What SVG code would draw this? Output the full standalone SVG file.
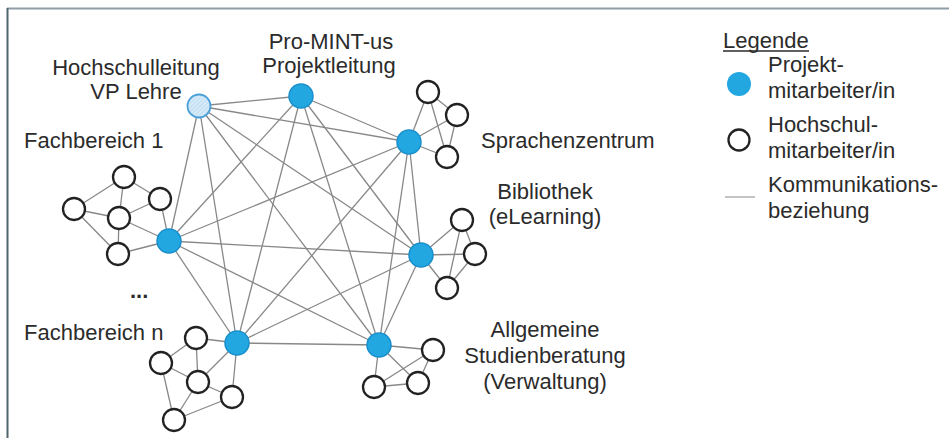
<svg xmlns="http://www.w3.org/2000/svg" width="949" height="438" viewBox="0 0 949 438">
  <style>
    text { font-family: "Liberation Sans", Arial, sans-serif; font-size: 22px; fill: #2b2b2b; }
    .c { text-anchor: middle; }
    .link { stroke: #888888; stroke-width: 1.3; fill: none; }
    .hub { fill: #22a7e1; stroke: #1a8fcc; stroke-width: 1.5; }
    .member { fill: #ffffff; stroke: #222222; stroke-width: 2.3; }
  </style>
  <defs>
    <pattern id="hatch" width="3" height="3" patternUnits="userSpaceOnUse" patternTransform="rotate(45)">
      <rect width="3" height="3" fill="#d6eaf8"/>
      <line x1="0" y1="0" x2="0" y2="3" stroke="#a8cfee" stroke-width="1"/>
    </pattern>
  </defs>

  <rect width="949" height="438" fill="#ffffff"/>
  <!-- frame -->
  <line x1="7" y1="8.5" x2="949" y2="8.5" stroke="#8e9ea6" stroke-width="2"/>
  <line x1="7.5" y1="8" x2="7.5" y2="438" stroke="#50646c" stroke-width="2"/>

  <!-- connectors -->
  <g id="connectors" class="link">
    <!-- between hubs -->
    <line x1="199" y1="106" x2="301" y2="96"/>
    <line x1="199" y1="106" x2="409" y2="142"/>
    <line x1="199" y1="106" x2="421" y2="255"/>
    <line x1="199" y1="106" x2="379" y2="345"/>
    <line x1="199" y1="106" x2="237" y2="343"/>
    <line x1="199" y1="106" x2="169" y2="241"/>
    <line x1="301" y1="96" x2="409" y2="142"/>
    <line x1="301" y1="96" x2="421" y2="255"/>
    <line x1="301" y1="96" x2="379" y2="345"/>
    <line x1="301" y1="96" x2="237" y2="343"/>
    <line x1="301" y1="96" x2="169" y2="241"/>
    <line x1="409" y1="142" x2="421" y2="255"/>
    <line x1="409" y1="142" x2="379" y2="345"/>
    <line x1="409" y1="142" x2="237" y2="343"/>
    <line x1="409" y1="142" x2="169" y2="241"/>
    <line x1="421" y1="255" x2="379" y2="345"/>
    <line x1="421" y1="255" x2="237" y2="343"/>
    <line x1="421" y1="255" x2="169" y2="241"/>
    <line x1="379" y1="345" x2="237" y2="343"/>
    <line x1="379" y1="345" x2="169" y2="241"/>
    <line x1="237" y1="343" x2="169" y2="241"/>
    <!-- Fachbereich 1 -->
    <line x1="74" y1="209" x2="124" y2="177"/>
    <line x1="124" y1="177" x2="119" y2="218"/>
    <line x1="124" y1="177" x2="160" y2="199"/>
    <line x1="74" y1="209" x2="119" y2="218"/>
    <line x1="119" y1="218" x2="160" y2="199"/>
    <line x1="74" y1="209" x2="118" y2="254"/>
    <line x1="119" y1="218" x2="118" y2="254"/>
    <line x1="119" y1="218" x2="169" y2="241"/>
    <line x1="160" y1="199" x2="169" y2="241"/>
    <line x1="118" y1="254" x2="169" y2="241"/>
    <!-- Fachbereich n -->
    <line x1="196" y1="338" x2="237" y2="343"/>
    <line x1="196" y1="338" x2="161" y2="363"/>
    <line x1="196" y1="338" x2="198" y2="382"/>
    <line x1="161" y1="363" x2="198" y2="382"/>
    <line x1="161" y1="363" x2="174" y2="420"/>
    <line x1="198" y1="382" x2="237" y2="343"/>
    <line x1="198" y1="382" x2="232" y2="397"/>
    <line x1="198" y1="382" x2="174" y2="420"/>
    <line x1="174" y1="420" x2="232" y2="397"/>
    <line x1="232" y1="397" x2="237" y2="343"/>
    <!-- Allgemeine Studienberatung -->
    <line x1="379" y1="345" x2="433" y2="350"/>
    <line x1="379" y1="345" x2="374" y2="387"/>
    <line x1="379" y1="345" x2="418" y2="383"/>
    <line x1="374" y1="387" x2="418" y2="383"/>
    <line x1="374" y1="387" x2="433" y2="350"/>
    <line x1="433" y1="350" x2="418" y2="383"/>
    <!-- Sprachenzentrum -->
    <line x1="409" y1="142" x2="428" y2="92"/>
    <line x1="409" y1="142" x2="457" y2="115"/>
    <line x1="409" y1="142" x2="447" y2="157"/>
    <line x1="428" y1="92" x2="457" y2="115"/>
    <line x1="428" y1="92" x2="447" y2="157"/>
    <line x1="457" y1="115" x2="447" y2="157"/>
    <!-- Bibliothek -->
    <line x1="421" y1="255" x2="462" y2="220"/>
    <line x1="421" y1="255" x2="475" y2="254"/>
    <line x1="421" y1="255" x2="447" y2="288"/>
    <line x1="462" y1="220" x2="475" y2="254"/>
    <line x1="462" y1="220" x2="447" y2="288"/>
    <line x1="475" y1="254" x2="447" y2="288"/>
  </g>

  <!-- hubs and their member groups -->
  <g id="hochschulleitung">
    <circle cx="199" cy="106" r="11.5" fill="url(#hatch)" stroke="#4a9fd8" stroke-width="1.8"/>
    <text class="c" x="136" y="75">Hochschulleitung</text>
    <text class="c" x="136" y="99">VP Lehre</text>
  </g>
  <g id="projektleitung">
    <circle class="hub" cx="301" cy="96" r="12"/>
    <text class="c" x="331" y="49">Pro-MINT-us</text>
    <text class="c" x="329" y="73">Projektleitung</text>
  </g>
  <g id="sprachenzentrum">
    <circle class="hub" cx="409" cy="142" r="12"/>
    <circle class="member" cx="428" cy="92" r="11"/>
    <circle class="member" cx="457" cy="115" r="11"/>
    <circle class="member" cx="447" cy="157" r="11"/>
    <text x="481" y="148">Sprachenzentrum</text>
  </g>
  <g id="bibliothek">
    <circle class="hub" cx="421" cy="255" r="12"/>
    <circle class="member" cx="462" cy="220" r="11"/>
    <circle class="member" cx="475" cy="254" r="11"/>
    <circle class="member" cx="447" cy="288" r="11"/>
    <text class="c" x="545" y="199">Bibliothek</text>
    <text class="c" x="545" y="224">(eLearning)</text>
  </g>
  <g id="studienberatung">
    <circle class="hub" cx="379" cy="345" r="12"/>
    <circle class="member" cx="433" cy="350" r="11"/>
    <circle class="member" cx="374" cy="387" r="11"/>
    <circle class="member" cx="418" cy="383" r="11"/>
    <text class="c" x="545" y="337">Allgemeine</text>
    <text class="c" x="545" y="363">Studienberatung</text>
    <text class="c" x="545" y="389">(Verwaltung)</text>
  </g>
  <g id="fachbereich-n">
    <circle class="hub" cx="237" cy="343" r="12"/>
    <circle class="member" cx="196" cy="338" r="11"/>
    <circle class="member" cx="161" cy="363" r="11"/>
    <circle class="member" cx="198" cy="382" r="11"/>
    <circle class="member" cx="232" cy="397" r="11"/>
    <circle class="member" cx="174" cy="420" r="11"/>
    <text x="24" y="340">Fachbereich n</text>
  </g>
  <g id="fachbereich-1">
    <circle class="hub" cx="169" cy="241" r="12"/>
    <circle class="member" cx="124" cy="177" r="11"/>
    <circle class="member" cx="74" cy="209" r="11"/>
    <circle class="member" cx="160" cy="199" r="11"/>
    <circle class="member" cx="119" cy="218" r="11"/>
    <circle class="member" cx="118" cy="254" r="11"/>
    <text x="24" y="148">Fachbereich 1</text>
  </g>
  <g id="weitere-fachbereiche">
    <text x="130" y="298" font-weight="bold">...</text>
  </g>

  <!-- legend -->
  <g id="legende">
    <text x="723" y="48">Legende</text>
    <line x1="723" y1="51" x2="809" y2="51" stroke="#2b2b2b" stroke-width="1.3"/>
    <circle cx="739" cy="84" r="12" fill="#22a7e1"/>
    <text x="768" y="72">Projekt-</text>
    <text x="768" y="98">mitarbeiter/in</text>
    <circle class="member" cx="739" cy="140" r="10.5"/>
    <text x="768" y="132">Hochschul-</text>
    <text x="768" y="158">mitarbeiter/in</text>
    <line x1="725" y1="197" x2="755" y2="197" stroke="#b0b0b0" stroke-width="1.5"/>
    <text x="768" y="192">Kommunikations-</text>
    <text x="768" y="218">beziehung</text>
  </g>
</svg>
